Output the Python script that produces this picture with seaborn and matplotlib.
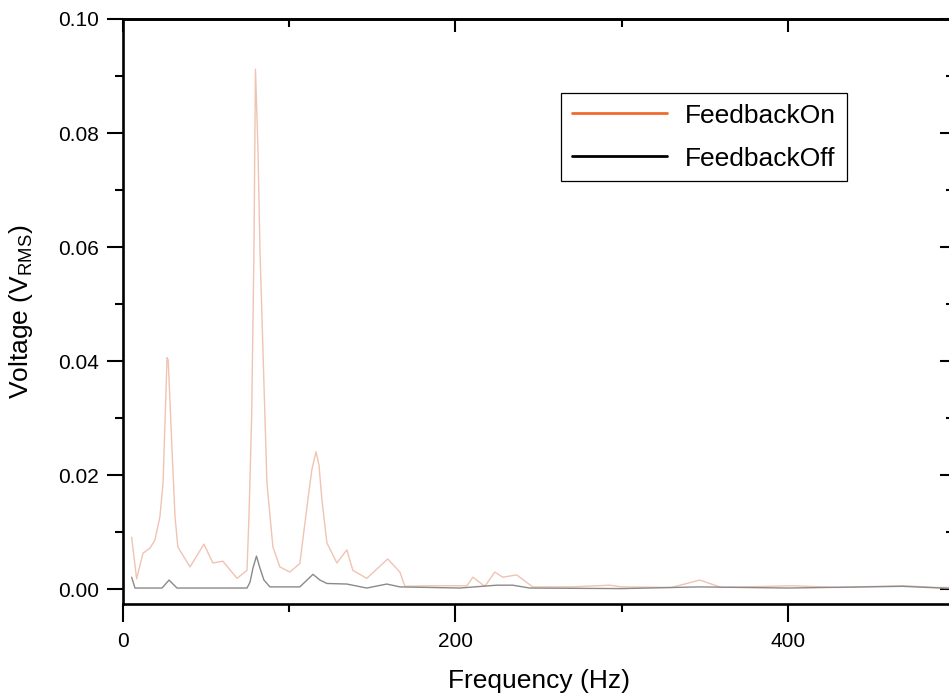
import numpy as np
import pandas as pd
import matplotlib
matplotlib.use("Agg")
import matplotlib.pyplot as plt
from matplotlib.lines import Line2D
from matplotlib.ticker import MultipleLocator, FixedLocator, FormatStrFormatter
import seaborn as sns

# Spectrum with feedback enabled (Hz, V_RMS)
freq_on = [5.2, 8.2, 12.0, 16.2, 19.2, 22.2, 24.1, 26.5, 27.2, 29.5, 31.3, 33.0,
           40.3, 48.7, 54.1, 60.1, 68.6, 74.6, 75.8, 77.4, 78.8, 79.7, 81.2, 82.4,
           84.2, 86.6, 90.2, 94.4, 100.4, 106.4, 111.2, 113.6, 116.1, 117.9, 119.7,
           122.7, 128.7, 134.7, 138.3, 146.7, 159.3, 166.6, 169.6, 185.0, 206.9,
           210.5, 217.7, 223.7, 228.5, 236.9, 246.5, 270.0, 292.8, 300.0, 330.0,
           347.0, 360.0, 402.9, 430.0, 469.0, 490.0, 500.0]
volt_on = [0.0091, 0.0018, 0.0063, 0.0072, 0.0086, 0.0127, 0.0186, 0.0406, 0.0402,
           0.0244, 0.0127, 0.0074, 0.0039, 0.0079, 0.0046, 0.0049, 0.0019, 0.0033,
           0.0127, 0.0302, 0.0596, 0.0912, 0.0772, 0.0596, 0.0420, 0.0186, 0.0074,
           0.0039, 0.0030, 0.0045, 0.0156, 0.0209, 0.0241, 0.0218, 0.0156, 0.0081,
           0.0046, 0.0069, 0.0033, 0.0019, 0.0053, 0.0030, 0.0005, 0.0006, 0.0006,
           0.0021, 0.0005, 0.0030, 0.0021, 0.0025, 0.0004, 0.0004, 0.0007, 0.0004,
           0.0003, 0.0016, 0.0003, 0.0006, 0.0003, 0.0006, 0.0003, 0.0003]

# Spectrum with feedback disabled (Hz, V_RMS)
freq_off = [5.2, 7.2, 23.5, 27.7, 32.5, 74.6, 76.4, 78.2, 80.3, 82.4, 84.8, 88.4,
            106.4, 114.3, 118.5, 122.7, 134.7, 146.7, 158.7, 166.6, 202.6, 224.9,
            234.5, 244.7, 300.0, 347.0, 400.0, 469.0, 500.0]
volt_off = [0.0021, 0.0002, 0.0002, 0.0016, 0.0002, 0.0002, 0.0012, 0.0037, 0.0058,
            0.0037, 0.0016, 0.0004, 0.0004, 0.0026, 0.0016, 0.0010, 0.0009, 0.0002,
            0.0009, 0.0004, 0.0002, 0.0007, 0.0007, 0.0002, 0.0001, 0.0004, 0.0002,
            0.0005, 0.0001]

series_names = ["FeedbackOn", "FeedbackOff"]
x_ticks = [0, 200, 400]
y_ticks = [0.00, 0.02, 0.04, 0.06, 0.08, 0.10]

sns.set_style("ticks")
plt.rcParams["font.family"] = ["Liberation Sans", "DejaVu Sans"]
plt.rcParams["mathtext.fontset"] = "custom"
plt.rcParams["mathtext.rm"] = "Liberation Sans"
plt.rcParams["mathtext.it"] = "Liberation Sans:italic"
for key in ["text.color", "axes.labelcolor", "xtick.color", "ytick.color",
            "axes.edgecolor"]:
    plt.rcParams[key] = "black"

fig = plt.figure(figsize=(9.49, 6.94), dpi=100)
W, H = 949, 694
left_px, right_px, top_px, bottom_px = 123, 954, 19, 604
ax = fig.add_axes([left_px / W, 1 - bottom_px / H,
                   (right_px - left_px) / W, (bottom_px - top_px) / H])

df_on = pd.DataFrame({"f": freq_on, "v": volt_on})
df_off = pd.DataFrame({"f": freq_off, "v": volt_off})
sns.lineplot(data=df_on, x="f", y="v", ax=ax, color="#f0c3b3", linewidth=1.0,
             estimator=None, sort=False)
sns.lineplot(data=df_off, x="f", y="v", ax=ax, color="#8a8a8a", linewidth=1.0,
             estimator=None, sort=False)

ax.set_xlim(0, 500)
ax.set_ylim(-0.0026, 0.10)

spine_w = 1.9
for s in ax.spines.values():
    s.set_visible(True)
    s.set_linewidth(spine_w)
    s.set_color("black")

ax.xaxis.set_major_locator(FixedLocator(x_ticks))
ax.xaxis.set_minor_locator(FixedLocator([100, 300, 500]))
ax.set_xticklabels([str(t) for t in x_ticks])
ax.yaxis.set_major_locator(FixedLocator(y_ticks))
ax.yaxis.set_minor_locator(MultipleLocator(0.01))
ax.yaxis.set_major_formatter(FormatStrFormatter("%.2f"))

ax.tick_params(axis="x", which="major", direction="out", length=13, width=1.5,
               labelsize=15, pad=7, top=False, colors="black")
ax.tick_params(axis="x", which="minor", direction="out", length=6, width=1.5, top=False)
ax.tick_params(axis="y", which="major", direction="out", length=11.5, width=1.5,
               labelsize=15, pad=6, right=False, colors="black")
ax.tick_params(axis="y", which="minor", direction="out", length=6, width=1.5, right=False)

# mirrored inward ticks on the top and right edges
top = ax.secondary_xaxis("top")
top.xaxis.set_major_locator(FixedLocator(x_ticks))
top.xaxis.set_minor_locator(FixedLocator([100, 300, 500]))
top.tick_params(which="major", direction="in", length=9, width=1.5, labeltop=False)
top.tick_params(which="minor", direction="in", length=6, width=1.5)
top.spines["top"].set_linewidth(spine_w)

right = ax.secondary_yaxis("right")
right.yaxis.set_major_locator(FixedLocator(y_ticks))
right.yaxis.set_minor_locator(MultipleLocator(0.01))
right.tick_params(which="major", direction="in", length=10, width=1.5, labelright=False)
right.tick_params(which="minor", direction="in", length=6, width=1.5)
right.spines["right"].set_linewidth(spine_w)

ax.set_xlabel("Frequency (Hz)", fontsize=19, labelpad=13, color="black")
ax.set_ylabel(r"Voltage (V$_{\mathrm{RMS}}$)", fontsize=19, labelpad=16, color="black")

handles = [Line2D([], [], color="#f26a2e", linewidth=2),
           Line2D([], [], color="black", linewidth=2)]
leg = ax.legend(handles, series_names, loc="upper left",
                bbox_to_anchor=(561 / W, 1 - 93 / H), bbox_transform=fig.transFigure,
                borderaxespad=0, fontsize=19, frameon=True, fancybox=False,
                framealpha=1, edgecolor="black", handlelength=3.6,
                handletextpad=0.7, labelspacing=0.72, borderpad=0.4)
leg.get_frame().set_linewidth(0.9)
for t in leg.get_texts():
    t.set_color("black")

fig.savefig("out.png", dpi=100)
